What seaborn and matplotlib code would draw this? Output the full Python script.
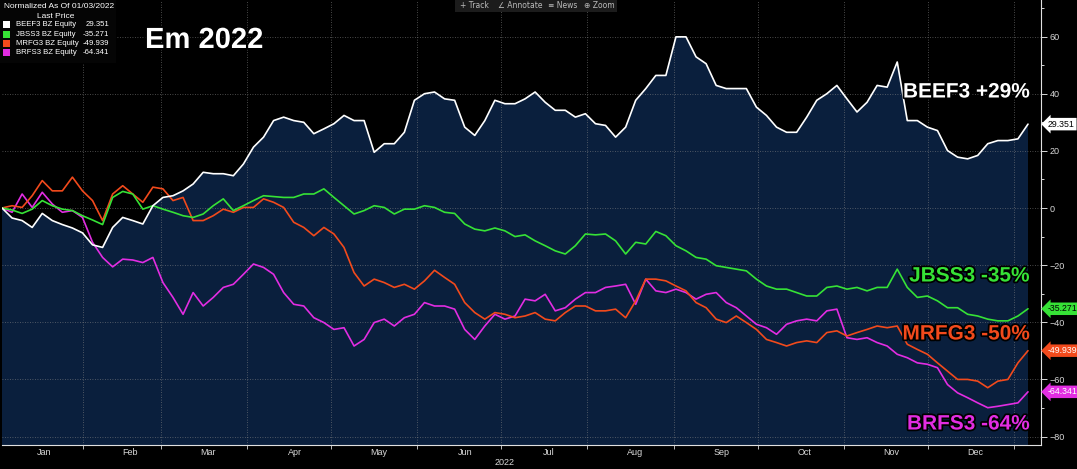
import numpy as np
import pandas as pd
import seaborn as sns
import matplotlib.pyplot as plt
import matplotlib.dates as mdates
import matplotlib.patheffects as pe
from matplotlib.patches import Rectangle

# normalized performance (%) in 2022, every 2-3 trading days
beef3 = [0, -3.5, -4.4, -6.8, -1.9, -4.4, -5.8, -7.0, -8.7, -12.9, -13.8, -6.8, -3.3, -4.4, -5.6, 0.8,
         3.7, 4.3, 6.0, 8.4, 12.5, 12.0, 12.0, 11.3, 15.4, 21.3,
         24.8, 30.6, 31.8, 30.6, 30.0, 26.0, 27.7, 29.5, 32.4, 30.6, 30.6, 19.5, 22.5, 22.5, 26.5, 37.7,
         40.0, 40.6, 38.2, 37.7, 28.3, 25.4, 30.6, 37.7, 36.5, 36.5,
         38.2, 40.6, 37.0, 34.2, 34.2, 31.8, 33.0, 29.5, 28.9, 24.8, 28.3, 37.7, 41.8, 46.4, 46.4, 59.9,
         59.9, 52.9, 50.5, 42.9, 41.8, 41.8, 41.8, 35.3, 32.4,
         28.3, 26.5, 26.5, 31.8, 37.7, 40.0, 42.9, 38.2, 33.6, 37.0, 42.9, 42.3, 51.1, 30.6, 30.6, 28.3,
         27.1, 20.1, 17.8, 17.2, 18.4, 22.5, 23.6, 23.6, 24.2, 29.351]
jbss3 = [0, -0.7, -1.9, -0.4, 2.6, 0.8, -0.4, -0.9, -2.7, -4.2, -5.8, 3.7, 5.8, 4.9, -0.4, 0.8,
         -0.4, -1.5, -2.7, -3.3, -2.1, 0.8, 3.2, -0.9, 0.8, 2.6,
         4.3, 4.0, 3.7, 3.7, 4.9, 4.9, 6.7, 3.7, 0.8, -2.1, -0.9, 0.8, 0.2, -2.1, -0.4, -0.4,
         0.8, 0.2, -1.5, -1.9, -5.6, -7.4, -8.0, -7.0, -8.0, -10.0,
         -9.4, -11.5, -13.2, -15.0, -16.1, -13.2, -9.1, -9.4, -9.1, -11.5, -16.1, -12.0, -12.6, -8.2,
         -9.7, -13.2, -15.0, -17.3, -17.9, -20.2, -20.8, -21.4, -22.0, -24.9, -27.3,
         -28.4, -28.4, -29.6, -30.8, -30.8, -27.8, -27.3, -28.4, -27.8, -29.0, -27.8, -27.8, -21.4,
         -27.8, -31.3, -30.8, -32.5, -34.9, -34.9, -37.2, -37.8, -38.9, -39.5, -39.5, -37.8, -35.271]
mrfg3 = [0, 0.8, 0.2, 4.3, 9.6, 6.0, 6.0, 10.8, 6.0, 2.6, -4.4, 4.9, 7.8, 4.9, 2.0, 7.3,
         6.7, 2.6, 3.7, -4.4, -4.4, -2.7, -0.4, -1.5, 0.2, 0.2,
         3.2, 2.0, 0.2, -5.0, -6.8, -9.7, -6.8, -9.1, -13.8, -22.6, -27.3, -24.9, -26.1, -27.8, -26.7,
         -28.4, -25.5, -21.8, -24.3, -26.7, -33.1, -36.6, -38.9, -36.6, -37.2, -38.4,
         -37.8, -36.6, -38.9, -39.5, -36.6, -34.3, -34.3, -36.0, -36.0, -35.4, -38.4, -32.5, -24.9,
         -24.9, -25.5, -27.3, -29.0, -33.1, -34.9, -38.9, -40.1, -37.8, -40.1, -42.5, -46.0,
         -47.1, -48.3, -47.1, -46.5, -47.1, -43.6, -43.0, -44.8, -43.6, -42.5, -41.3, -41.9, -41.3,
         -47.7, -49.5, -51.2, -54.2, -57.1, -60.0, -60.0, -60.6, -62.9, -60.6, -60.0, -54.2, -49.939]
brfs3 = [0, -1.5, 4.9, 0.2, 5.5, 1.4, -1.5, -0.9, -3.3, -12.0, -17.3, -20.6, -17.9, -18.2, -19.1,
         -17.3, -26.1, -31.3, -37.2, -29.6, -34.3, -31.3, -27.8, -26.7, -23.2, -19.6,
         -20.8, -23.2, -29.6, -33.7, -34.3, -38.4, -40.1, -42.5, -41.9, -48.3, -46.0, -40.1, -38.9,
         -41.3, -38.4, -37.2, -33.1, -34.3, -34.3, -35.4, -42.5, -46.0, -41.3, -37.2, -38.9, -37.8,
         -31.9, -32.5, -30.2, -36.0, -34.9, -31.9, -29.6, -29.6, -27.8, -27.3, -26.7, -33.7, -24.9,
         -29.0, -29.6, -28.4, -29.6, -31.9, -30.2, -29.6, -33.1, -34.9, -37.8, -40.7, -41.9,
         -44.2, -40.7, -39.5, -38.9, -39.5, -36.0, -35.4, -45.4, -46.0, -45.4, -47.1, -48.3, -51.2,
         -52.4, -54.2, -54.7, -55.9, -61.8, -64.7, -66.4, -68.2, -69.9, -69.4, -68.8, -68.2, -64.341]

tickers = ['BEEF3', 'JBSS3', 'MRFG3', 'BRFS3']
labels = ['BEEF3 +29%', 'JBSS3 -35%', 'MRFG3 -50%', 'BRFS3 -64%']
last_price = ['29.351', '-35.271', '-49.939', '-64.341']
colors = {'BEEF3': '#ffffff', 'JBSS3': '#36e236', 'MRFG3': '#f24a1c', 'BRFS3': '#e22de2'}
tag_text = {'BEEF3': 'black', 'JBSS3': 'black', 'MRFG3': 'white', 'BRFS3': 'white'}
month_names = ['Jan', 'Feb', 'Mar', 'Apr', 'May', 'Jun', 'Jul', 'Aug', 'Sep', 'Oct', 'Nov', 'Dec']

start, end = pd.Timestamp('2022-01-03'), pd.Timestamp('2023-01-06')
# dates as plain matplotlib day numbers
days = mdates.date2num(pd.date_range(start, end, periods=len(beef3)).to_pydatetime())

df = pd.DataFrame({'day': days, 'BEEF3': beef3, 'JBSS3': jbss3, 'MRFG3': mrfg3, 'BRFS3': brfs3})
long = df.melt(id_vars='day', var_name='ticker', value_name='value')

month_starts = mdates.date2num(pd.date_range('2022-02-01', '2023-01-01', freq='MS').to_pydatetime())
month_mids = mdates.date2num([pd.Timestamp(2022, m, 18).to_pydatetime() for m in range(1, 13)])

sns.set_theme(style='dark', rc={'axes.facecolor': 'black', 'figure.facecolor': 'black'})
plt.rcParams['font.family'] = ['Liberation Sans', 'DejaVu Sans']

W, H = 1077, 469
fig = plt.figure(figsize=(W / 100, H / 100), dpi=100)
ax = fig.add_axes([2 / W, 24 / H, 1039 / W, 1 - 24 / H])

ymin, ymax = -82.95, 72.8
ax.fill_between(df['day'], df['BEEF3'], ymin, facecolor='#0a1f3d', edgecolor='none',
                linewidth=0, zorder=1)
sns.lineplot(data=long, x='day', y='value', hue='ticker', hue_order=tickers[::-1],
             palette=colors, linewidth=1.2, legend=False, ax=ax, zorder=3)

px_day = (days[-1] - days[0]) / 1026
ax.set_xlim(days[0], days[-1] + 13 * px_day)
ax.set_ylim(ymin, ymax)

# axes look: right axis, white spines, dotted grid
ax.yaxis.tick_right()
for s in ['left', 'top']:
    ax.spines[s].set_visible(False)
for s in ['right', 'bottom']:
    ax.spines[s].set_color('#e0e0e0')
    ax.spines[s].set_linewidth(0.8)
ax.set_yticks(np.arange(-80, 61, 20))
ax.set_yticks(np.arange(-70, 71, 10), minor=True)
ax.tick_params(axis='y', which='major', length=4, width=0.7, colors='#d8d8d8', labelsize=6.5, pad=2,
               left=False, right=True)
ax.tick_params(axis='y', which='minor', length=2, width=0.7, colors='#d8d8d8', left=False, right=True)
ax.set_xticks(month_starts)
ax.set_xticklabels([])
ax.set_xticks(month_mids, minor=True)
ax.set_xticklabels(month_names, minor=True)
ax.tick_params(axis='x', which='major', length=3, width=0.6, colors='#d8d8d8', bottom=True)
ax.tick_params(axis='x', which='minor', length=0, colors='#d8d8d8', labelsize=6.5, pad=2)
ax.set_xlabel('')
ax.set_ylabel('')
ax.set_axisbelow(False)
ax.grid(True, which='major', color='#8a8a8a', linestyle=(0, (1, 2)), linewidth=0.6, alpha=0.7)

fig.text(505 / W, 1 - 462 / H, '2022', color='#d8d8d8', fontsize=6.5, ha='center', va='center')

stroke = [pe.withStroke(linewidth=2.5, foreground='black')]
fig.text(145 / W, 1 - 40 / H, 'Em 2022', color='white', fontsize=21, fontweight='bold',
         ha='left', va='center', path_effects=stroke, zorder=6)
label_y = [92, 276, 334, 424]
for t, lab, py in zip(tickers, labels, label_y):
    fig.text(1030 / W, 1 - py / H, lab, color=colors[t], fontsize=15, fontweight='bold',
             ha='right', va='center', path_effects=stroke, zorder=6)

# last price tags on the right axis
for t, lp in zip(tickers, last_price):
    ax.annotate(lp, xy=(1.0, float(lp)), xycoords=('axes fraction', 'data'), xytext=(5, 0),
                textcoords='offset points', ha='left', va='center', fontsize=6.3, color=tag_text[t],
                bbox=dict(boxstyle='larrow,pad=0.2', fc=colors[t], ec='none'), annotation_clip=False,
                zorder=7)

# legend box, top left
fig.patches.append(Rectangle((0, 1 - 63 / H), 116 / W, 63 / H, transform=fig.transFigure,
                             fc='#050505', ec='none', zorder=5))
fig.text(4 / W, 1 - 7 / H, 'Normalized As Of 01/03/2022', color='white', fontsize=6, va='center', zorder=6)
fig.text(56 / W, 1 - 17 / H, 'Last Price', color='white', fontsize=6, va='center', ha='center', zorder=6)
for i, (t, lp) in enumerate(zip(tickers, last_price)):
    py = 25 + 9.3 * i
    fig.patches.append(Rectangle((3 / W, 1 - (py + 3.5) / H), 7 / W, 7 / H, transform=fig.transFigure,
                                 fc=colors[t], ec='none', zorder=6))
    fig.text(16 / W, 1 - py / H, t + ' BZ Equity', color='white', fontsize=5.6, va='center', zorder=6)
    fig.text(109 / W, 1 - py / H, lp, color='white', fontsize=5.6, va='center', ha='right', zorder=6)

# toolbar strip at the top
fig.patches.append(Rectangle((455 / W, 1 - 12 / H), 162 / W, 12 / H, transform=fig.transFigure,
                             fc='#1c1c1c', ec='none', zorder=5))
for px, s in zip([460, 498, 548, 584], ['+ Track', '∠ Annotate', '≡ News', '⊕ Zoom']):
    fig.text(px / W, 1 - 5 / H, s, color='#bbbbbb', fontsize=5.5, va='center',
             family=['DejaVu Sans'], zorder=6)

plt.savefig('out.png', dpi=100, facecolor='black')
